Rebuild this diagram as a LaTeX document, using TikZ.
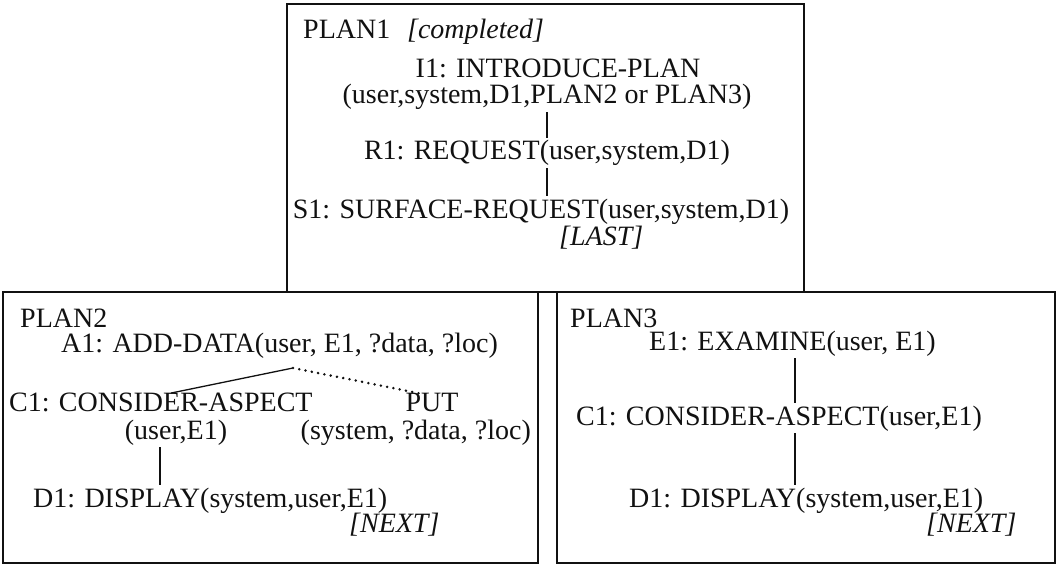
\documentclass[tikz,border=0pt]{standalone}
\usepackage{fontspec}
\setmainfont{Liberation Serif}
\usepackage{xcolor}
\definecolor{cInk}{HTML}{111111}
\usetikzlibrary{positioning,calc}
\tikzset{
  plan-frame/.style={draw=cInk,line width=2pt},
  plan-text/.style={text=cInk,inner sep=1pt,font=\fontsize{28}{30}\selectfont},
  plan-tag/.style={plan-text,font=\fontsize{28}{30}\selectfont\itshape},
  link/.style={draw=cInk,line width=1.3pt,shorten <=1pt,shorten >=1pt},
  link-dotted/.style={draw=cInk,line width=2.8pt,line cap=round,
    dash pattern=on 0pt off 6.4pt},
}

\begin{document}
\begin{tikzpicture}[x=1pt,y=-1pt]
  \useasboundingbox (0,0) rectangle (1059,564);
  % frames
  \draw[plan-frame] (287,4) rectangle (804,292);
  \draw[plan-frame] (3,292) rectangle (538,563);
  \draw[plan-frame] (557,292) rectangle (1055,563);

  % PLAN1
  \node[plan-text,anchor=base west] (p1-title) at (302,39)
    {PLAN1\hspace{0.6em}\textit{[completed]}};
  \node[plan-text,anchor=base] (p1-i1) at (558,78) {I1: INTRODUCE-PLAN};
  \node[plan-text,anchor=base] (p1-i1args) at (547,104)
    {(user,system,D1,PLAN2 or PLAN3)};
  \node[plan-text,anchor=base] (p1-r1) at (547,160) {R1: REQUEST(user,system,D1)};
  \node[plan-text,anchor=base] (p1-s1) at (541,218)
    {S1: SURFACE-REQUEST(user,system,D1)};
  \node[plan-tag,anchor=base west] (p1-last) at (558,245) {[LAST]};
  \coordinate (p1-stem) at (547,0);
  \draw[link] (p1-i1args.south -| p1-stem) -- (p1-r1.north -| p1-stem);
  \draw[link] (p1-r1.south -| p1-stem) -- (p1-s1.north -| p1-stem);

  % PLAN2
  \node[plan-text,anchor=base west] (p2-title) at (19,327) {PLAN2};
  \node[plan-text,anchor=base west] (p2-a1) at (60,352)
    {A1: ADD-DATA(user, E1, ?data, ?loc)};
  \node[plan-text,anchor=base west] (p2-c1) at (8,411) {C1: CONSIDER-ASPECT};
  \node[plan-text,anchor=base] (p2-put) at (432,411) {PUT};
  \node[plan-text,anchor=base] (p2-c1args) at (176,439) {(user,E1)};
  \node[plan-text,anchor=base east] (p2-putargs) at (532,439)
    {(system, ?data, ?loc)};
  \node[plan-text,anchor=base west] (p2-d1) at (32,507)
    {D1: DISPLAY(system,user,E1)};
  \node[plan-tag,anchor=base west] (p2-next) at (348,532) {[NEXT]};
  \coordinate (p2-fork) at (293,368);
  \coordinate (p2-stem) at (160,0);
  \draw[link] (p2-fork) -- ([xshift=162pt,yshift=-2pt]p2-c1.north west);
  \draw[link-dotted] (p2-fork) -- ([xshift=-12pt,yshift=-2pt]p2-put.north);
  \draw[link] (p2-c1args.south -| p2-stem) -- (p2-d1.north -| p2-stem);

  % PLAN3
  \node[plan-text,anchor=base west] (p3-title) at (569,327) {PLAN3};
  \node[plan-text,anchor=base west] (p3-e1) at (648,350) {E1: EXAMINE(user, E1)};
  \node[plan-text,anchor=base west] (p3-c1) at (575,425)
    {C1: CONSIDER-ASPECT(user,E1)};
  \node[plan-text,anchor=base west] (p3-d1) at (628,507)
    {D1: DISPLAY(system,user,E1)};
  \node[plan-tag,anchor=base west] (p3-next) at (925,532) {[NEXT]};
  \coordinate (p3-stem) at (795,0);
  \draw[link] (p3-e1.south -| p3-stem) -- (p3-c1.north -| p3-stem);
  \draw[link] (p3-c1.south -| p3-stem) -- (p3-d1.north -| p3-stem);
\end{tikzpicture}
\end{document}
